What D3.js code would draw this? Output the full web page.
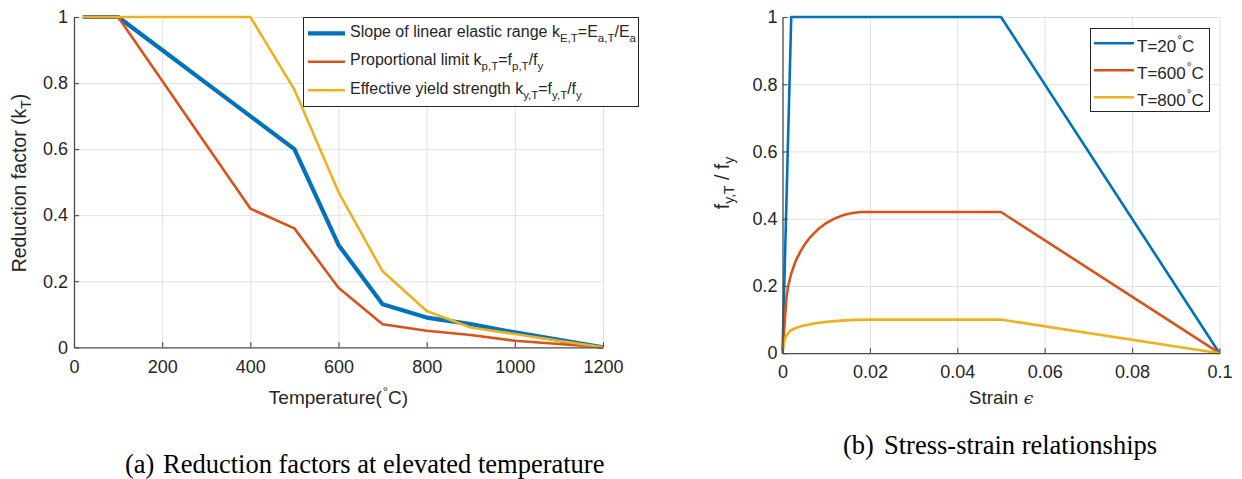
<!DOCTYPE html>
<html>
<head>
<meta charset="utf-8">
<script src="https://cdn.jsdelivr.net/npm/d3@7"></script>
<style>
  body { margin: 0; background: #fff; }
  svg { display: block; }
  text { font-family: "Liberation Sans", Arial, Helvetica, sans-serif; fill: #262626; }
  .caption { font-family: "Liberation Serif", "Times New Roman", serif; fill: #000; }
</style>
</head>
<body>
<svg id="fig" width="1242" height="479"></svg>
<script>
// ---- (a) reduction factors vs temperature ----
const temperatures = [20, 100, 200, 300, 400, 500, 600, 700, 800, 900, 1000, 1100, 1200];
const kE = [1, 1, 0.9, 0.8, 0.7, 0.6, 0.31, 0.13, 0.09, 0.07, 0.045, 0.0225, 0];
const kP = [1, 1, 0.807, 0.613, 0.42, 0.36, 0.18, 0.07, 0.05, 0.037, 0.02, 0.01, 0];
const kY = [1, 1, 1, 1, 1, 0.78, 0.47, 0.23, 0.11, 0.06, 0.04, 0.02, 0];

const tempTicks = [0, 200, 400, 600, 800, 1000, 1200];
const tempTickLabels = ["0", "200", "400", "600", "800", "1000", "1200"];
const factorTicks = [0, 0.2, 0.4, 0.6, 0.8, 1];
const factorTickLabels = ["0", "0.2", "0.4", "0.6", "0.8", "1"];

// ---- (b) normalised stress-strain curves ----
const strain20 = [0, 0.002, 0.05, 0.1];
const stress20 = [0, 1, 1, 0];
const strain600 = [0, 0.0009, 0.0013, 0.002, 0.003, 0.004, 0.005, 0.006, 0.008, 0.01, 0.012, 0.014, 0.016, 0.018, 0.02, 0.05, 0.1];
const stress600 = [0, 0.165, 0.2, 0.237, 0.274, 0.3, 0.322, 0.34, 0.367, 0.387, 0.401, 0.411, 0.417, 0.42, 0.42, 0.42, 0];
const strain800 = [0, 0.0004, 0.0007, 0.001, 0.0017, 0.003, 0.0045, 0.006, 0.0075, 0.0105, 0.0135, 0.0165, 0.02, 0.05, 0.1];
const stress800 = [0, 0.035, 0.047, 0.055, 0.066, 0.075, 0.081, 0.085, 0.089, 0.094, 0.097, 0.099, 0.1, 0.1, 0];

const strainTicks = [0, 0.02, 0.04, 0.06, 0.08, 0.1];
const strainTickLabels = ["0", "0.02", "0.04", "0.06", "0.08", "0.1"];
const stressTicks = [0, 0.2, 0.4, 0.6, 0.8, 1];
const stressTickLabels = ["0", "0.2", "0.4", "0.6", "0.8", "1"];

const reductionNames = [
  { main: "Slope of linear elastic range k", parts: [["E,T", true], ["=E", false], ["a,T", true], ["/E", false], ["a", true]] },
  { main: "Proportional limit k", parts: [["p,T", true], ["=f", false], ["p,T", true], ["/f", false], ["y", true]] },
  { main: "Effective yield strength k", parts: [["y,T", true], ["=f", false], ["y,T", true], ["/f", false], ["y", true]] }
];
const curveTemps = ["20", "600", "800"];

const BLUE = "#0072BD", RED = "#D95319", GOLD = "#EDB120";
const GRID = "#e1e1e1", AXIS = "#4a4a4a";
const TICK_FONT = 18;

const svg = d3.select("#fig");
svg.append("rect").attr("width", 1242).attr("height", 479).attr("fill", "#fff");

function drawGrid(g, x, y, xt, yt) {
  const [x0, x1] = x.range();
  const [y0, y1] = y.range();
  g.append("g").attr("transform", `translate(0,${y0})`)
    .call(d3.axisBottom(x).tickValues(xt.filter(v => v !== 0)).tickSize(-(y0 - y1)).tickFormat(""))
    .call(s => { s.select(".domain").remove(); s.selectAll("line").attr("stroke", GRID).attr("stroke-width", 1); });
  g.append("g").attr("transform", `translate(${x0},0)`)
    .call(d3.axisLeft(y).tickValues(yt.filter(v => v !== 0)).tickSize(-(x1 - x0)).tickFormat(""))
    .call(s => { s.select(".domain").remove(); s.selectAll("line").attr("stroke", GRID).attr("stroke-width", 1); });
}

function styleAxis(s) {
  s.select(".domain").attr("stroke", AXIS).attr("stroke-width", 1.3);
  s.selectAll("line").attr("stroke", AXIS).attr("stroke-width", 1.1);
  s.selectAll("text").attr("font-size", TICK_FONT).attr("fill", "#262626").attr("font-family", null);
}

function drawAxes(g, x, y, xt, xl, yt, yl, padX, padY) {
  const [x0] = x.range();
  const [y0] = y.range();
  g.append("g").attr("transform", `translate(0,${y0})`)
    .call(d3.axisBottom(x).tickValues(xt).tickFormat((d, i) => xl[i]).tickSize(-5).tickSizeOuter(0).tickPadding(padX))
    .call(styleAxis);
  g.append("g").attr("transform", `translate(${x0},0)`)
    .call(d3.axisLeft(y).tickValues(yt).tickFormat((d, i) => yl[i]).tickSize(-5).tickSizeOuter(0).tickPadding(padY))
    .call(styleAxis);
}

function degreeLabel(t, before, after, size) {
  t.append("tspan").text(before);
  t.append("tspan").attr("font-size", size).attr("dy", -8).attr("dx", 1).text("°");
  t.append("tspan").attr("dy", 8).text(after);
}

// ================= panel (a) =================
const xa = d3.scaleLinear().domain([0, 1200]).range([74, 603]);
const ya = d3.scaleLinear().domain([0, 1]).range([347.3, 17]);
const ga = svg.append("g");
drawGrid(ga, xa, ya, tempTicks, factorTicks);

const lineA = (vals) => d3.line().x((d, i) => xa(temperatures[i])).y(d => ya(d))(vals);
[[kE, BLUE, 4.2], [kP, RED, 2.6], [kY, GOLD, 2.6]].forEach(([vals, c, w]) => {
  ga.append("path").attr("d", lineA(vals)).attr("fill", "none")
    .attr("stroke", c).attr("stroke-width", w).attr("stroke-linejoin", "round");
});
drawAxes(ga, xa, ya, tempTicks, tempTickLabels, factorTicks, factorTickLabels, 13, 6);

// axis titles
const tA = ga.append("text").attr("x", 338.5).attr("y", 404).attr("text-anchor", "middle").attr("font-size", 19);
degreeLabel(tA, "Temperature(", "C)", 13);
const yA = ga.append("text").attr("transform", "translate(26,183) rotate(-90)").attr("text-anchor", "middle").attr("font-size", 19.5);
yA.append("tspan").text("Reduction factor (k");
yA.append("tspan").attr("font-size", 14).attr("dy", 5).text("T");
yA.append("tspan").attr("dy", -5).text(")");

// legend (a)
const la = ga.append("g");
la.append("rect").attr("x", 303.5).attr("y", 17.5).attr("width", 335).attr("height", 89)
  .attr("fill", "#fff").attr("stroke", "#262626").attr("stroke-width", 1);
const legA = [[BLUE, 4.2], [RED, 2.6], [GOLD, 2.6]];
reductionNames.forEach((nm, i) => {
  const ly = 33.3 + i * 28.5;
  la.append("line").attr("x1", 308).attr("x2", 345).attr("y1", ly).attr("y2", ly)
    .attr("stroke", legA[i][0]).attr("stroke-width", legA[i][1]);
  const t = la.append("text").attr("x", 350).attr("y", ly + 3.6).attr("font-size", 16);
  t.append("tspan").text(nm.main);
  let down = false;
  nm.parts.forEach(([s, sub]) => {
    const dy = sub ? (down ? 0 : 5) : (down ? -5 : 0);
    down = sub;
    t.append("tspan").attr("dy", dy).attr("font-size", sub ? 11.5 : 16).text(s);
  });
});

// ================= panel (b) =================
const xb = d3.scaleLinear().domain([0, 0.1]).range([782.5, 1219.5]);
const yb = d3.scaleLinear().domain([0, 1]).range([353.2, 17]);
const gb = svg.append("g");
drawGrid(gb, xb, yb, strainTicks, stressTicks);

const curves = [[strain20, stress20, BLUE], [strain600, stress600, RED], [strain800, stress800, GOLD]];
curves.forEach(([xs, ys, c]) => {
  const path = d3.line().x((d, i) => xb(xs[i])).y(d => yb(d))(ys);
  gb.append("path").attr("d", path).attr("fill", "none").attr("stroke", c)
    .attr("stroke-width", 2.6).attr("stroke-linejoin", "round");
});
drawAxes(gb, xb, yb, strainTicks, strainTickLabels, stressTicks, stressTickLabels, 12, 5);

const tB = gb.append("text").attr("x", 1001).attr("y", 404).attr("text-anchor", "middle").attr("font-size", 19);
tB.append("tspan").text("Strain ");
tB.append("tspan").attr("font-family", "DejaVu Serif").attr("font-style", "italic").attr("font-size", 17).text("ϵ");
const yB = gb.append("text").attr("transform", "translate(729,183) rotate(-90)").attr("text-anchor", "middle").attr("font-size", 19.5);
yB.append("tspan").text("f");
yB.append("tspan").attr("font-size", 14).attr("dy", 5).text("y,T");
yB.append("tspan").attr("dy", -5).text(" / f");
yB.append("tspan").attr("font-size", 14).attr("dy", 5).text("y");

// legend (b)
const lb = gb.append("g");
lb.append("rect").attr("x", 1090.5).attr("y", 28.5).attr("width", 119).attr("height", 83)
  .attr("fill", "#fff").attr("stroke", "#262626").attr("stroke-width", 1);
curveTemps.forEach((T, i) => {
  const ly = 43.3 + i * 27;
  lb.append("line").attr("x1", 1094).attr("x2", 1134).attr("y1", ly).attr("y2", ly)
    .attr("stroke", curves[i][2]).attr("stroke-width", 2.6);
  const t = lb.append("text").attr("x", 1137).attr("y", ly + 8.8).attr("font-size", 17);
  degreeLabel(t, "T=" + T, "C", 12);
});

// ================= captions =================
const CAP = 26.5;
svg.append("text").attr("class", "caption").attr("x", 125).attr("y", 473).attr("font-size", CAP).text("(a)");
svg.append("text").attr("class", "caption").attr("x", 163).attr("y", 473).attr("font-size", CAP).text("Reduction factors at elevated temperature");
svg.append("text").attr("class", "caption").attr("x", 843).attr("y", 454).attr("font-size", CAP).text("(b)");
svg.append("text").attr("class", "caption").attr("x", 884).attr("y", 454).attr("font-size", CAP).text("Stress-strain relationships");
</script>
</body>
</html>
